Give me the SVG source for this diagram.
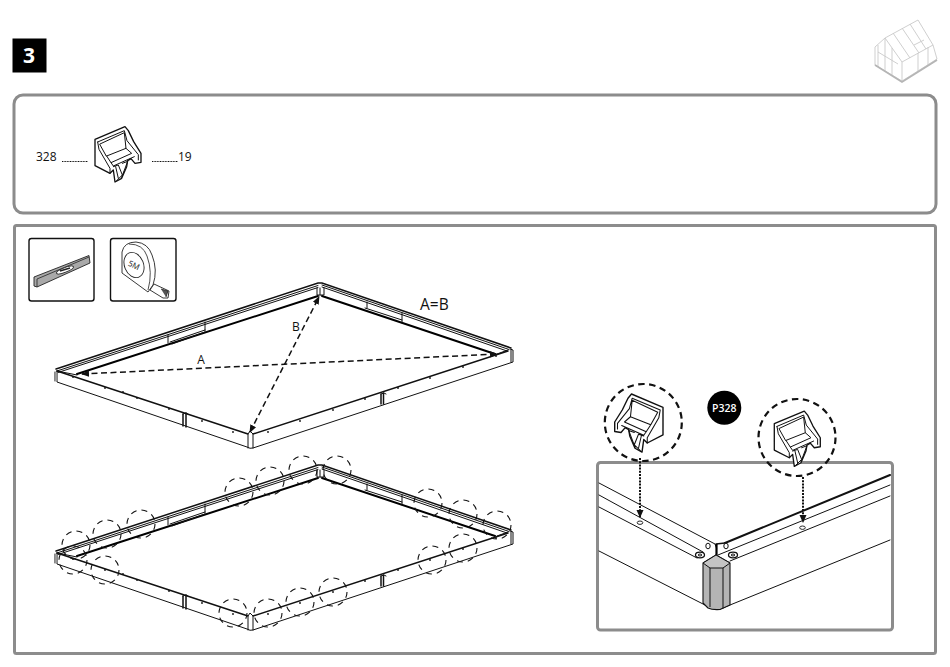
<svg xmlns="http://www.w3.org/2000/svg" xmlns:xlink="http://www.w3.org/1999/xlink" width="950" height="667" viewBox="0 0 950 667">
<style>
.panel{fill:#fff;stroke:#8c8c8c;stroke-width:3}
.t{font-family:"Open Sans","Noto Sans",sans-serif;fill:#111}
.l{fill:none;stroke:#111;stroke-width:1;stroke-linecap:round;stroke-linejoin:round}
.m{fill:none;stroke:#111;stroke-width:1.5;stroke-linecap:round}
.h{fill:none;stroke:#000;stroke-width:2;stroke-linecap:round}
.tool{fill:#fff;stroke:#111;stroke-width:1.4}
.gh{fill:none;stroke:#c9c9c9;stroke-width:.9}
.dc{fill:none;stroke:#111;stroke-width:1.1;stroke-dasharray:6 5}
.bc{fill:none;stroke:#111;stroke-width:2.2;stroke-dasharray:6.5 4.5}
.dash{fill:none;stroke:#111;stroke-width:1.5;stroke-dasharray:6 3.5}
.dot{fill:none;stroke:#111;stroke-width:2;stroke-dasharray:2 1.2}
.clipb{fill:#fff;stroke:#111;stroke-width:4;stroke-linejoin:round}
.clipl{fill:none;stroke:#111;stroke-width:3;stroke-linejoin:round;stroke-linecap:round}
</style>
<defs>
<marker id="ah" viewBox="0 0 8 8" refX="7" refY="4" markerWidth="8" markerHeight="8" orient="auto-start-reverse" markerUnits="userSpaceOnUse"><path d="M0,0.8 L8,4 L0,7.2 Z" fill="#111"/></marker>
<marker id="ab" viewBox="0 0 8 8" refX="7" refY="4" markerWidth="8" markerHeight="8" orient="auto" markerUnits="userSpaceOnUse"><path d="M0,0.5 L8,4 L0,7.5 Z" fill="#111"/></marker>
<g id="clip">
<path class="clipb" d="M30,58 L120,20 L130,32 L146,65 L168,100 L168,127 L150,130 L138,116 L128,122 L125,140 L110,175 L90,186 L85,150 L75,160 L30,137 Z"/>
<path class="clipl" d="M38,66 L118,32 L126,62 L160,104 L160,120 M45,72 L118,38 L123,85 L65,108 Z M123,85 L140,100 L78,128 L65,108 M78,128 L85,138 L148,110 M38,66 L42,88 L75,145 L75,160 M85,140 L100,135 L112,165 L95,182 M92,140 L100,175 M112,130 L128,124 L110,172"/>
</g>
<g id="frame">
<path class="m" d="M56,369 L318,283 L322,283 L511,348"/>
<path class="l" d="M57,371 L318,285.500 M58,372.500 L318,287.500 M322,285 L509,349.500 M322,287 L507,351"/>
<path class="h" d="M77,374 L318,296 M322,296 L495,354"/>
<path class="l" d="M57,371 L77,375 M497,354 L508,350 M168,335 L168,343 M205,322 L205,331 M170,342 L205,330 M172,344 L205,332 M367,302 L367,308 M402,313 L402,323 M365,308 L402,320"/>
<path class="l" d="M57,371 L57,382 L247,447 Q250,449 253,448 L513,362 L513,350 L510,349"/>
<path class="m" d="M57,371 L248,434 M253,434 L508,351"/>
<path class="l" d="M55,372 L55,381 M248,435 L248,448 M253,435 L253,448 M511,350 L511,362"/>
<rect x="55" y="372" width="2" height="9" fill="#999"/>
<path class="l" d="M248,434 L250,431 L253,434 M317,288 L317,295 L324,295 L324,288 M320,288 L320,295"/>
<path class="m" d="M183,414 L183,426 M186,413 L186,427 M381,394 L381,404 M383.5,393 L383.5,404"/>
<path d="M183,414 L186,413 L188,414 M381,394 L384,393 L386,394" class="l"/>
<g fill="#111"><circle cx="73" cy="377" r=".9"/><circle cx="105" cy="388" r=".9"/><circle cx="123" cy="392" r=".9"/><circle cx="137" cy="398" r=".9"/><circle cx="169" cy="409" r=".9"/><circle cx="202" cy="421" r=".9"/><circle cx="233" cy="432" r=".9"/><circle cx="268" cy="432" r=".9"/><circle cx="300" cy="421" r=".9"/><circle cx="333" cy="410" r=".9"/><circle cx="365" cy="399" r=".9"/><circle cx="398" cy="388" r=".9"/><circle cx="430" cy="378" r=".9"/><circle cx="463" cy="367" r=".9"/><circle cx="496" cy="356" r=".9"/></g>
</g>
</defs>
<rect width="950" height="667" fill="#fff"/>

<g id="step">
<rect x="12.500" y="38.500" width="34" height="34" fill="#000"/>
<text x="29" y="63" class="t" style="fill:#fff;font-weight:700;font-size:21px" text-anchor="middle">3</text>
</g>

<g id="greenhouse" class="gh">
<path d="M875,47 L885,38 L902,62 L902,81 L875,65 Z M885,38 L918,20 L933,45 L902,62 M933,45 L937,59 L902,81"/>
<path d="M893,33 L910,58 M902,28 L919,53 M910,24 L926,49 M914,45 L924,40 M878,45 L878,67 M885,38 L885,71 M892,48 L892,75 M878,52 L898,64 M918,53 L918,72 M928,47 L928,65"/>
<path d="M875,65 L902,82 L937,60" stroke="#b5b5b5" stroke-width="1.8"/>
</g>

<rect class="panel" x="14" y="95" width="922" height="118" rx="9"/>
<rect class="panel" x="14.500" y="225.500" width="921" height="428" rx="2"/>

<g id="parts">
<text x="36" y="161" class="t" style="font-size:12px">328</text>
<path d="M62,161.500 H88 M152,161.500 H178" stroke="#111" stroke-width="1" stroke-dasharray="1 .6" fill="none"/>
<text x="178" y="161" class="t" style="font-size:12px">19</text>
<use xlink:href="#clip" href="#clip" transform="translate(85,120) scale(.3333)"/>
</g>

<g id="tool-level">
<rect class="tool" x="29" y="238.500" width="65" height="62.500" rx="2.500"/>
<path d="M34,277 L89,255.500 L90,263 L37,287 L34,286 Z" fill="#a9a9a9" stroke="#222" stroke-width=".9" stroke-linejoin="round"/>
<path d="M37,279 L89,257 M37,279 L37,287" fill="none" stroke="#222" stroke-width=".8"/>
<ellipse cx="65" cy="270" rx="9" ry="2.300" transform="rotate(-21 65 270)" fill="#fff" stroke="#222" stroke-width=".9"/>
<path d="M60,271 L70,268" stroke="#222" stroke-width="1.500"/>
</g>

<g id="tool-tape">
<rect class="tool" x="110.500" y="238.500" width="65.500" height="62.500" rx="2.500"/>
<path d="M122,273 L122,252 Q124,242 136,242 Q148,243 152,255 Q158,270 153,285 L148,292 Z" fill="#fff" stroke="#222" stroke-width=".9" stroke-linejoin="round"/>
<path d="M129,244 Q143,244 147,256 Q153,272 148,290" fill="none" stroke="#222" stroke-width=".8"/>
<ellipse cx="134" cy="265" rx="9.500" ry="13" transform="rotate(-22 134 265)" fill="#fff" stroke="#222" stroke-width=".9"/>
<text x="134" y="268" class="t" style="font-size:8px" text-anchor="middle" transform="rotate(25 134 265)">5M</text>
<path d="M150,290 L154,284 L169,291 L168,298 L163,298 Z" fill="#fff" stroke="#222" stroke-width=".9" stroke-linejoin="round"/>
<path d="M161,289 L168,291 L166,297" fill="#555" stroke="#222" stroke-width=".8"/>
</g>

<g id="frame-measured">
<use xlink:href="#frame" href="#frame"/>
<text x="420" y="310" class="t" style="font-size:15.500px">A=B</text>
<text x="201" y="364" class="t" style="font-size:12px" text-anchor="middle">A</text>
<text x="296" y="331" class="t" style="font-size:12px" text-anchor="middle">B</text>
</g>

<g id="frame-marked">
<use xlink:href="#frame" href="#frame" transform="translate(0,182)"/>
<g class="dc">
<circle cx="76" cy="545" r="14"/><circle cx="107" cy="534" r="14"/><circle cx="141" cy="524" r="14"/>
<circle cx="73" cy="560" r="14"/><circle cx="105" cy="570" r="14"/>
<circle cx="233" cy="613" r="14"/><circle cx="268" cy="613" r="14"/><circle cx="300" cy="602" r="14"/><circle cx="333" cy="592" r="14"/>
<circle cx="239" cy="492" r="14"/><circle cx="270" cy="481" r="14"/><circle cx="303" cy="470" r="14"/><circle cx="337" cy="470" r="14"/>
<circle cx="428" cy="503" r="14"/><circle cx="463" cy="514" r="14"/><circle cx="497" cy="525" r="14"/><circle cx="463" cy="548" r="14"/><circle cx="432" cy="560" r="14"/>
</g>
</g>

<g id="detail">
<rect x="597.500" y="462.500" width="295" height="167.500" rx="3" fill="#fff" stroke="#8c8c8c" stroke-width="3"/>
<path class="l" d="M599,483 L715,544 L716.500,548 M599,495 L703,552 M599,507 L697,558 M599,551 L705,605 Q712,610 720,609 L730,605 L890,540 M718,555 L890,485 M730,561 L890,496"/>
<path class="m" style="stroke-width:2" d="M725,543 L890,475"/>
<path class="m" d="M716,544 L725,543"/>
<path d="M716.500,544 V555" stroke="#000" stroke-width="2.200"/>
<path d="M703,563 L716,555 L730,563 V605 L720,609.500 Q712,610 708,608 L703,603 Z" fill="#b4b4b4" stroke="#111" stroke-width="1.100" stroke-linejoin="round"/>
<path d="M710,568 V607 M723,568 V608.500" fill="none" stroke="#111" stroke-width="1"/>
<path d="M703,563 L716,555 L730,563 L723,568 L710,568 Z" fill="#c4c4c4" stroke="#111" stroke-width="1"/>
<g fill="#fff" stroke="#111">
<ellipse cx="708" cy="546" rx="2.200" ry="2.800" stroke-width="1"/>
<ellipse cx="726" cy="546" rx="2.200" ry="2.800" stroke-width="1"/>
<ellipse cx="700" cy="555" rx="4.500" ry="2.800" stroke-width="1.300"/>
<ellipse cx="733" cy="555" rx="4.500" ry="2.800" stroke-width="1.300"/>
<ellipse cx="700" cy="555" rx="1.800" ry="1" stroke-width="1"/>
<ellipse cx="733" cy="555" rx="1.800" ry="1" stroke-width="1"/>
<ellipse cx="640" cy="522.700" rx="2.800" ry="1.700" stroke-width=".9"/>
<ellipse cx="802.500" cy="527.700" rx="2.800" ry="1.700" stroke-width=".9"/>
</g>
</g>

<g id="callout-left">
<circle class="bc" cx="643.300" cy="422.500" r="38.500"/>
<use xlink:href="#clip" href="#clip" transform="translate(673.500,387) scale(-.35,.35)"/>
</g>
<g id="callout-right">
<circle class="bc" cx="797" cy="437.500" r="38.500"/>
<use xlink:href="#clip" href="#clip" transform="translate(764.300,404.400) scale(.3333)"/>
</g>
<g id="badge">
<circle cx="724.300" cy="407.700" r="17" fill="#000"/>
<text x="724.300" y="411.500" class="t" style="fill:#fff;font-size:10.500px;font-weight:600" text-anchor="middle">P328</text>
</g>

<g id="connectors">
<path class="dash" d="M82,374 L497,354" marker-start="url(#ah)" marker-end="url(#ah)"/>
<path class="dash" d="M250,432 L319,297" marker-start="url(#ah)" marker-end="url(#ah)"/>
<path class="dot" d="M640,458 L640,517" marker-end="url(#ab)"/>
<path class="dot" d="M803,477 L803,522" marker-end="url(#ab)"/>
</g>
</svg>
